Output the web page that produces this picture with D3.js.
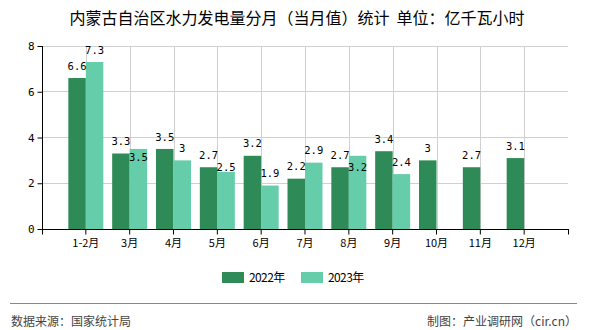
<!DOCTYPE html>
<html><head><meta charset="utf-8">
<script src="https://cdn.jsdelivr.net/npm/d3@7/dist/d3.min.js"></script>
<style>
body{margin:0;background:#fff;}
svg{display:block;}
</style></head>
<body><svg id="c" width="590" height="330"></svg>
<script>
const title = "内蒙古自治区水力发电量分月（当月值）统计\u00a0\u00a0单位：亿千瓦小时";
const categories = ["1-2月","3月","4月","5月","6月","7月","8月","9月","10月","11月","12月"];
const seriesNames = ["2022年","2023年"];
const values2022 = [6.6,3.3,3.5,2.7,3.2,2.2,2.7,3.4,3,2.7,3.1];
const values2023 = [7.3,3.5,3,2.5,1.9,2.9,3.2,2.4,null,null,null];
const yTicks = [0,2,4,6,8];
const colors = ["#2e8b57","#66cdaa"];
const sourceText = "数据来源：国家统计局";
const creditText = "制图：产业调研网（cir.cn）";

const svg = d3.select("#c");
const L=42, R=568, T=46, B=229;
const slot=(R-L)/12;
const x = d3.scaleBand().domain(categories).range([L+slot/2, R-slot/2]).padding(0);
const y = d3.scaleLinear().domain([0,8]).range([B,T]);
const barW = 17.5;
const cjk = "'Noto Sans CJK SC','Noto Sans',sans-serif";
const mono = "'DejaVu Sans Mono','Liberation Mono',monospace";

// title
svg.append("text").attr("x",297).attr("y",24).attr("text-anchor","middle")
  .attr("font-family",cjk).attr("font-size",16).attr("fill","#000").text(title);

// grid
const g = svg.append("g");
g.selectAll("line.h").data(yTicks.filter(d=>d>0)).join("line")
  .attr("x1",L).attr("x2",R).attr("y1",d=>y(d)).attr("y2",d=>y(d))
  .attr("stroke","#d0d0d0").attr("stroke-width",1).attr("shape-rendering","crispEdges");
g.selectAll("line.v").data(categories).join("line")
  .attr("x1",d=>Math.round(x(d)+x.bandwidth()/2)+0.5).attr("x2",d=>Math.round(x(d)+x.bandwidth()/2)+0.5)
  .attr("y1",T).attr("y2",B).attr("stroke","#d0d0d0").attr("stroke-width",1);

// bars
const data = categories.map((c,i)=>({c, v:[values2022[i], values2023[i]]}));
const bars = svg.append("g");
data.forEach(d=>{
  const cx = x(d.c)+x.bandwidth()/2;
  d.v.forEach((v,k)=>{
    if(v==null) return;
    bars.append("rect").attr("x", k===0? cx-barW : cx).attr("width",barW)
      .attr("y",y(v)).attr("height",B-y(v)).attr("fill",colors[k]);
  });
});

// axes
const yAxis = d3.axisLeft(y).tickValues(yTicks).tickSize(5).tickFormat(d3.format("d"));
const ya = svg.append("g").attr("transform",`translate(${L+0.5},0)`).call(yAxis);
ya.select(".domain").remove();
ya.selectAll("line").attr("stroke","#000");
ya.selectAll("text").attr("font-family",mono).attr("font-size",11).attr("fill","#000").attr("x",-8);
svg.append("line").attr("x1",L+0.5).attr("x2",L+0.5).attr("y1",T).attr("y2",B+0.5).attr("stroke","#000");

const xAxis = d3.axisBottom(x).tickSize(5).tickSizeOuter(0);
const xa = svg.append("g").attr("transform",`translate(0,${B+0.5})`).call(xAxis);
xa.select(".domain").remove();
xa.selectAll("line").attr("stroke","#000");
xa.selectAll("text").attr("font-family",cjk).attr("font-size",11).attr("fill","#000").attr("dy","0.9em");
svg.append("line").attr("x1",L).attr("x2",R+0.5).attr("y1",B+0.5).attr("y2",B+0.5).attr("stroke","#000");
[L+0.5,R+0.5].forEach(px=>svg.append("line").attr("x1",px).attr("x2",px).attr("y1",B).attr("y2",B+5.5).attr("stroke","#000"));

// value labels with simple collision avoidance
const lab = svg.append("g").attr("font-family",mono).attr("font-size",10.5).attr("fill","#000").attr("text-anchor","middle");
const charW = 6.3;
data.forEach(d=>{
  const cx = x(d.c)+x.bandwidth()/2;
  const boxes=[];
  d.v.forEach((v,k)=>{
    if(v==null) return;
    const s = String(v);
    let lx = k===0? cx-barW/2 : cx+barW/2;
    let ly = y(v)-12;
    const w = s.length*charW;
    const hit = b => Math.abs(b.x-lx) < (b.w+w)/2 && Math.abs(b.y-ly) < 12;
    let tries=0;
    while(boxes.some(hit) && tries<10){ ly += 4; tries++; }
    boxes.push({x:lx,y:ly,w});
    lab.append("text").attr("x",lx).attr("y",ly).attr("dy","0.35em").text(s);
  });
});

// legend
const leg = svg.append("g");
const legX=[222,301];
seriesNames.forEach((n,i)=>{
  leg.append("rect").attr("x",legX[i]).attr("y",272).attr("width",22).attr("height",11).attr("fill",colors[i]);
  leg.append("text").attr("x",legX[i]+27).attr("y",277.5).attr("dy","0.35em")
    .attr("font-family",cjk).attr("font-size",12).attr("fill","#000").attr("letter-spacing",-0.6).text(n);
});

// footer
svg.append("line").attr("x1",10).attr("x2",577).attr("y1",303.5).attr("y2",303.5).attr("stroke","#888").attr("stroke-width",1);
svg.append("text").attr("x",11).attr("y",322).attr("dy","0.35em").attr("font-family",cjk).attr("font-size",12).attr("fill","#444").text(sourceText);
svg.append("text").attr("x",577).attr("y",322).attr("dy","0.35em").attr("text-anchor","end").attr("font-family",cjk).attr("font-size",12).attr("fill","#444").text(creditText);
</script></body></html>
